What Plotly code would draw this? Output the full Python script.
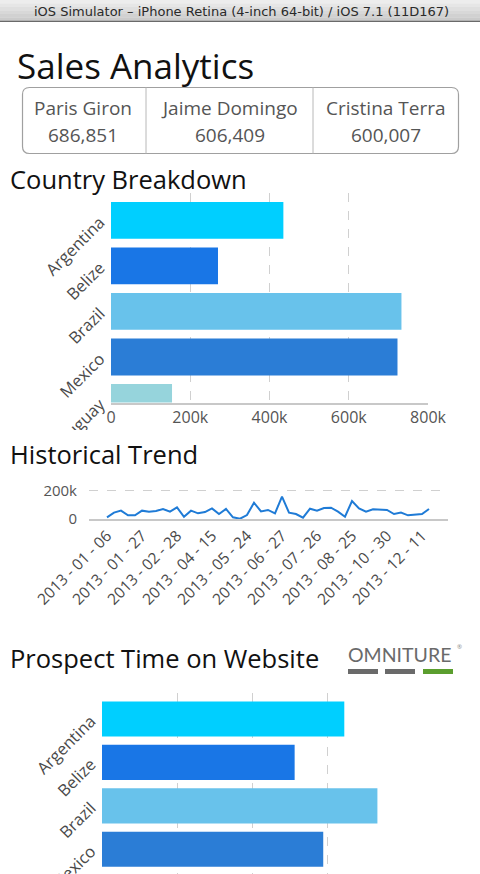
import plotly.graph_objects as go

# ---------------- data ----------------
reps = ["Paris Giron", "Jaime Domingo", "Cristina Terra"]
rep_totals = [686851, 606409, 600007]

countries = ["Argentina", "Belize", "Brazil", "Mexico", "Uruguay"]
country_sales = [435000, 270000, 733000, 723000, 154000]
country_colors = ["#00CFFF", "#1976E6", "#68C2EB", "#2B7DD6", "#96D4DC"]
sales_ticks = [0, 200000, 400000, 600000, 800000]
sales_tick_labels = ["0", "200k", "400k", "600k", "800k"]

trend_dates = [
    "2013-01-06", "2013-01-09", "2013-01-14", "2013-01-18", "2013-01-22",
    "2013-01-27", "2013-02-02", "2013-02-08", "2013-02-14", "2013-02-21",
    "2013-02-28", "2013-03-08", "2013-03-17", "2013-03-26", "2013-04-05",
    "2013-04-15", "2013-04-22", "2013-04-30", "2013-05-08", "2013-05-16",
    "2013-05-24", "2013-05-31", "2013-06-07", "2013-06-14", "2013-06-20",
    "2013-06-27", "2013-07-03", "2013-07-09", "2013-07-15", "2013-07-20",
    "2013-07-26", "2013-08-01", "2013-08-07", "2013-08-13", "2013-08-19",
    "2013-08-25", "2013-09-06", "2013-09-18", "2013-09-30", "2013-10-15",
    "2013-10-30", "2013-11-08", "2013-11-16", "2013-11-23", "2013-12-02",
    "2013-12-11", "2013-12-20",
]
trend_values = [
    12000, 45000, 59000, 26000, 26000, 59000, 52000, 56000, 71000, 52000,
    82000, 16000, 59000, 40000, 49000, 75000, 35000, 71000, 12000, 2000,
    28000, 115000, 54000, 64000, 40000, 158000, 45000, 35000, 9000, 73000,
    59000, 78000, 80000, 52000, 16000, 127000, 75000, 52000, 68000, 64000,
    64000, 35000, 45000, 26000, 28000, 35000, 71000,
]
trend_label_dates = trend_dates[::5]
trend_y_ticks = [0, 200000]
trend_y_labels = ["0", "200k"]

prospect_countries = ["Argentina", "Belize", "Brazil", "Mexico"]
prospect_time = [161, 128, 183, 147]
prospect_colors = ["#00CFFF", "#1976E6", "#68C2EB", "#2B7DD6"]
prospect_ticks = [0, 50, 100, 150, 200]

# ---------------- layout helpers ----------------
W, H = 480, 874
FONT = "Open Sans"


def px(x):
    return x / W


def py(y):
    return 1 - y / H


fig = go.Figure()

# Country breakdown bars
fig.add_trace(go.Bar(
    y=countries, x=country_sales, orientation="h",
    marker=dict(color=country_colors, line=dict(width=0)),
    xaxis="x", yaxis="y", showlegend=False, hoverinfo="x+y",
))

# Historical trend line
fig.add_trace(go.Scatter(
    x=trend_dates, y=trend_values, mode="lines",
    line=dict(color="#1F7BD6", width=2),
    xaxis="x2", yaxis="y2", showlegend=False,
))

# Prospect time bars
fig.add_trace(go.Bar(
    y=prospect_countries, x=prospect_time, orientation="h",
    marker=dict(color=prospect_colors, line=dict(width=0)),
    xaxis="x3", yaxis="y3", showlegend=False,
))

tick_font = dict(family=FONT, size=16.5, color="#4a4a4a")
grid = dict(showgrid=True, gridcolor="#d0d0d0", griddash="dash", gridwidth=1)

shapes = []
annotations = []

# iOS simulator title bar (gradient approximation)
bar_cols = ["#ededed", "#e6e6e6", "#dfdfdf", "#d8d8d8", "#d1d1d1", "#cbcbcb"]
step = 21 / len(bar_cols)
for i, c in enumerate(bar_cols):
    shapes.append(dict(type="rect", xref="paper", yref="paper",
                       x0=0, x1=1, y0=py(i * step + step + 0.3), y1=py(i * step),
                       fillcolor=c, line=dict(width=0), layer="below"))
shapes.append(dict(type="rect", xref="paper", yref="paper", x0=0, x1=1,
                   y0=py(22), y1=py(20.8), fillcolor="#6a6a6a",
                   line=dict(width=0), layer="below"))
annotations.append(dict(
    text="iOS Simulator – iPhone Retina (4-inch 64-bit) / iOS 7.1 (11D167)",
    xref="paper", yref="paper", x=px(241), y=py(11), showarrow=False,
    xanchor="center", yanchor="middle",
    font=dict(family="DejaVu Sans", size=13, color="#2a2a2a")))

# Headings
def heading(text, x, y, size):
    annotations.append(dict(text=text, xref="paper", yref="paper", x=px(x), y=py(y),
                            showarrow=False, xanchor="left", yanchor="middle",
                            font=dict(family=FONT, size=size, color="#111111")))


heading("Sales Analytics", 15, 65, 35)
heading("Country Breakdown", 8, 179, 25.5)
heading("Historical Trend", 8, 454, 25.5)
heading("Prospect Time on Website", 8, 658, 25.5)

# KPI box with rounded corners
bx0, bx1, by0, by1, r = 22.5, 458.5, 87.5, 153.5, 7


def P(x, y):
    return f"{px(x):.5f},{py(y):.5f}"


path = (f"M {P(bx0 + r, by0)} L {P(bx1 - r, by0)} Q {P(bx1, by0)} {P(bx1, by0 + r)} "
        f"L {P(bx1, by1 - r)} Q {P(bx1, by1)} {P(bx1 - r, by1)} "
        f"L {P(bx0 + r, by1)} Q {P(bx0, by1)} {P(bx0, by1 - r)} "
        f"L {P(bx0, by0 + r)} Q {P(bx0, by0)} {P(bx0 + r, by0)} Z")
shapes.append(dict(type="path", xref="paper", yref="paper", path=path,
                   line=dict(color="#a0a0a0", width=1.2), fillcolor="rgba(0,0,0,0)"))
for dx in (146, 313):
    shapes.append(dict(type="line", xref="paper", yref="paper",
                       x0=px(dx), x1=px(dx), y0=py(by0), y1=py(by1),
                       line=dict(color="#b8b8b8", width=1)))
cell_centers = [83, 229.5, 386]
for cx, name, total in zip(cell_centers, reps, rep_totals):
    annotations.append(dict(text=name, xref="paper", yref="paper", x=px(cx), y=py(108),
                            showarrow=False, xanchor="center", yanchor="middle",
                            font=dict(family=FONT, size=19, color="#555555")))
    annotations.append(dict(text=f"{total:,}", xref="paper", yref="paper", x=px(cx), y=py(135),
                            showarrow=False, xanchor="center", yanchor="middle",
                            font=dict(family=FONT, size=19, color="#555555")))

# Omniture logo
annotations.append(dict(text="OMNITURE", xref="paper", yref="paper", x=px(346), y=py(654),
                        showarrow=False, xanchor="left", yanchor="middle",
                        font=dict(family="Lato", size=19.5, color="#6a6a6a")))
annotations.append(dict(text="®", xref="paper", yref="paper", x=px(455), y=py(647),
                        showarrow=False, xanchor="left", yanchor="middle",
                        font=dict(family=FONT, size=6, color="#888888")))
for (lx0, lx1, col) in [(348, 378, "#6a6a6a"), (385, 415, "#6a6a6a"), (423, 453, "#5b9e2e")]:
    shapes.append(dict(type="rect", xref="paper", yref="paper",
                       x0=px(lx0), x1=px(lx1), y0=py(674), y1=py(669),
                       fillcolor=col, line=dict(width=0)))

# clip the cut-off Uruguay label like the original view
shapes.append(dict(type="rect", xref="paper", yref="paper", x0=0, x1=px(104),
                   y0=py(478), y1=py(430), fillcolor="white", line=dict(width=0),
                   layer="above"))

fig.update_layout(
    width=W, height=H,
    margin=dict(l=0, r=0, t=0, b=0, pad=0),
    autosize=False,
    paper_bgcolor="white", plot_bgcolor="white",
    bargap=0.19,
    shapes=shapes, annotations=annotations,
    font=dict(family=FONT),
    xaxis=dict(domain=[px(111), px(428)], range=[0, 800000], anchor="y",
               tickvals=sales_ticks, ticktext=sales_tick_labels,
               tickfont=dict(family=FONT, size=16, color="#555555"),
               showline=True, linecolor="#c8c8c8", linewidth=1.5, automargin=False,
               zeroline=False, ticks="", fixedrange=True, **grid),
    yaxis=dict(domain=[py(402.5), py(193)], range=[4, -0.6], anchor="x",
               type="category", categoryorder="array", categoryarray=countries,
               tickangle=-45, tickfont=tick_font, showgrid=False, automargin=False,
               showline=False, zeroline=False, ticks="", ticklabelstandoff=10),
    xaxis2=dict(domain=[px(89), px(448)], range=[-2.57, 46 + 19 / 7], anchor="y2",
                type="category", categoryorder="array", categoryarray=trend_dates,
                tickvals=trend_label_dates,
                ticktext=[d.replace("-", " - ") for d in trend_label_dates],
                tickangle=-45, tickfont=dict(family=FONT, size=15.5, color="#4a4a4a"),
                showline=True, linecolor="#c8c8c8", linewidth=1.5, automargin=False,
                showgrid=False, zeroline=False, ticks=""),
    yaxis2=dict(domain=[py(519), py(488)], range=[0, 219000], anchor="x2",
                tickvals=trend_y_ticks, ticktext=trend_y_labels, automargin=False,
                tickfont=dict(family=FONT, size=15, color="#555555"),
                showline=False, zeroline=False, ticks="", ticklabelstandoff=11, **grid),
    xaxis3=dict(domain=[px(102), px(403)], range=[0, 200], anchor="y3",
                tickvals=prospect_ticks, showticklabels=False, automargin=False,
                showline=False, zeroline=False, ticks="", **grid),
    yaxis3=dict(domain=[0, py(693)], range=[3.57, -0.6], anchor="x3",
                type="category", categoryorder="array", categoryarray=prospect_countries,
                tickangle=-45, tickfont=tick_font, showgrid=False, automargin=False,
                showline=False, zeroline=False, ticks="", ticklabelstandoff=10),
)

fig.write_html("out.html", config={"displayModeBar": False},
               post_script="document.body.style.margin='0';document.body.style.overflow='hidden';")
